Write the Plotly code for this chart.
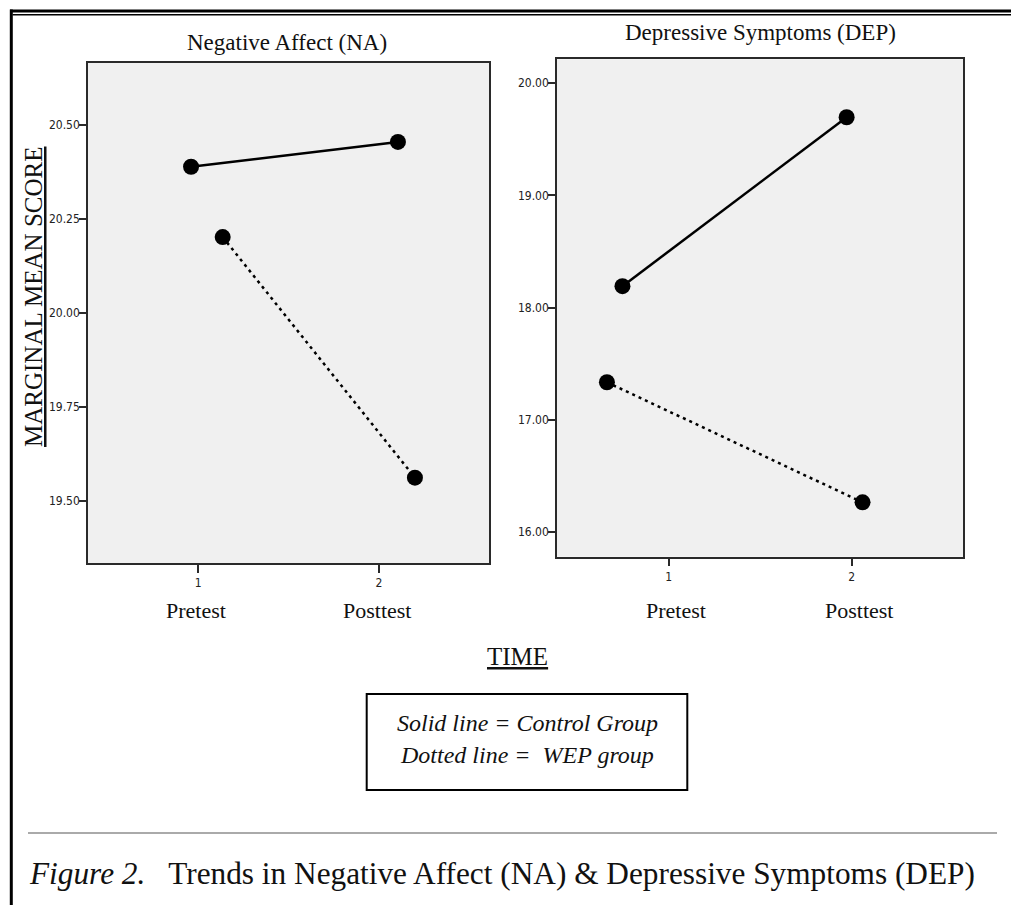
import plotly.graph_objects as go

W, H = 1011, 905

# ---------------- data ----------------
time_ticks = [1, 2]
time_tick_labels = ["1", "2"]
time_names = ["Pretest", "Posttest"]

na_control_x = [0.96, 2.105]
na_control_y = [20.389, 20.455]
na_wep_x = [1.135, 2.199]
na_wep_y = [20.202, 19.562]

dep_control_x = [0.747, 1.973]
dep_control_y = [18.19, 19.697]
dep_wep_x = [0.662, 2.06]
dep_wep_y = [17.333, 16.262]

na_yticks = [19.50, 19.75, 20.00, 20.25, 20.50]
dep_yticks = [16.0, 17.0, 18.0, 19.0, 20.0]

panel_titles = ["Negative Affect (NA)", "Depressive Symptoms (DEP)"]
y_title = "MARGINAL MEAN SCORE"
x_title = "TIME"
legend_lines = ["Solid line = Control Group", "Dotted line =\u00a0 WEP group"]
caption_italic = "Figure 2."
caption_text = "Trends in Negative Affect (NA) & Depressive Symptoms (DEP)"

# ---------------- helpers ----------------
def fx(px):
    return px / W

def fy(py):
    return 1 - py / H

SERIF = "Liberation Serif, Times New Roman, serif"
SANS = "DejaVu Sans Condensed, Liberation Sans Narrow, Arial Narrow, Liberation Sans, sans-serif"

fig = go.Figure()

solid = dict(color="black", width=2.5)
dotted = dict(color="black", width=2.5, dash="3px,4px")
mk = dict(color="black", size=16)

fig.add_trace(go.Scatter(x=na_control_x, y=na_control_y, mode="lines+markers",
                         line=solid, marker=mk, xaxis="x", yaxis="y", showlegend=False))
fig.add_trace(go.Scatter(x=na_wep_x, y=na_wep_y, mode="lines+markers",
                         line=dotted, marker=mk, xaxis="x", yaxis="y", showlegend=False))
fig.add_trace(go.Scatter(x=dep_control_x, y=dep_control_y, mode="lines+markers",
                         line=solid, marker=mk, xaxis="x2", yaxis="y2", showlegend=False))
fig.add_trace(go.Scatter(x=dep_wep_x, y=dep_wep_y, mode="lines+markers",
                         line=dotted, marker=mk, xaxis="x2", yaxis="y2", showlegend=False))

axis_common = dict(showgrid=False, zeroline=False, showline=True, mirror=True,
                   linecolor="#2a2a2a", linewidth=1.5, ticks="outside",
                   tickcolor="#2a2a2a", tickwidth=1.5,
                   tickfont=dict(family=SANS, size=12, color="#222"))

xa = dict(axis_common, tickvals=time_ticks, ticktext=time_tick_labels, ticklen=8)
ya = dict(axis_common, tickformat=".2f", ticklen=7, ticklabelstandoff=-3)

fig.update_layout(
    width=W, height=H, autosize=False,
    margin=dict(l=0, r=0, t=0, b=0, pad=0),
    paper_bgcolor="white", plot_bgcolor="#f0f0f0",
    xaxis=dict(xa, domain=[fx(88), fx(489)], range=[0.3896, 2.609], anchor="y"),
    yaxis=dict(ya, domain=[fy(563), fy(62.6)], range=[19.335, 20.666],
               tickvals=na_yticks, anchor="x"),
    xaxis2=dict(xa, domain=[fx(557), fx(963.3)], range=[0.389, 2.611], anchor="y2"),
    yaxis2=dict(ya, domain=[fy(556.7), fy(59.3)], range=[15.777, 20.214],
                tickvals=dep_yticks, anchor="x2"),
    hovermode=False,
)

ann = []
# panel titles
ann.append(dict(text=panel_titles[0], x=fx(287), y=fy(43), xref="paper", yref="paper",
                showarrow=False, xanchor="center", yanchor="middle",
                font=dict(family=SERIF, size=23, color="#111")))
ann.append(dict(text=panel_titles[1], x=fx(760.5), y=fy(33), xref="paper", yref="paper",
                showarrow=False, xanchor="center", yanchor="middle",
                font=dict(family=SERIF, size=23, color="#111")))
# Pretest / Posttest
for xr, shift in (("x", -2), ("x2", 7)):
    for t, name in zip(time_ticks, time_names):
        ann.append(dict(text=name, x=t, y=fy(610), xref=xr, yref="paper", xshift=shift,
                        showarrow=False, xanchor="center", yanchor="middle",
                        font=dict(family=SERIF, size=22, color="#111")))
# y title
ann.append(dict(text="<u>" + y_title + "</u>", x=fx(33), y=fy(297), xref="paper", yref="paper",
                textangle=-90, showarrow=False, xanchor="center", yanchor="middle",
                font=dict(family=SERIF, size=25, color="#111")))
# x title
ann.append(dict(text="<u>" + x_title + "</u>", x=fx(517.5), y=fy(656), xref="paper", yref="paper",
                showarrow=False, xanchor="center", yanchor="middle",
                font=dict(family=SERIF, size=25, color="#111")))
# legend box text
ann.append(dict(text="<i>" + legend_lines[0] + "</i>", x=fx(527), y=fy(723), xref="paper", yref="paper",
                showarrow=False, xanchor="center", yanchor="middle",
                font=dict(family=SERIF, size=24, color="#111")))
ann.append(dict(text="<i>" + legend_lines[1] + "</i>", x=fx(527), y=fy(755), xref="paper", yref="paper",
                showarrow=False, xanchor="center", yanchor="middle",
                font=dict(family=SERIF, size=24, color="#111")))
# caption
ann.append(dict(text="<i>" + caption_italic + "</i>\u00a0\u00a0 " + caption_text,
                x=fx(27), y=fy(873), xref="paper", yref="paper",
                showarrow=False, xanchor="left", yanchor="middle",
                font=dict(family=SERIF, size=31.3, color="#111")))
fig.update_layout(annotations=ann)

shapes = []
# outer frame: thick + thin top lines, left vertical
shapes.append(dict(type="line", xref="paper", yref="paper", x0=fx(10), x1=fx(1011),
                   y0=fy(11), y1=fy(11), line=dict(color="black", width=3)))
shapes.append(dict(type="line", xref="paper", yref="paper", x0=fx(12.5), x1=fx(1011),
                   y0=fy(14.8), y1=fy(14.8), line=dict(color="black", width=1.5)))
shapes.append(dict(type="line", xref="paper", yref="paper", x0=fx(11.3), x1=fx(11.3),
                   y0=fy(9.5), y1=fy(905), line=dict(color="black", width=3)))
# grey separator
shapes.append(dict(type="line", xref="paper", yref="paper", x0=fx(28), x1=fx(997),
                   y0=fy(833), y1=fy(833), line=dict(color="#aaaaaa", width=2)))
# legend box
shapes.append(dict(type="rect", xref="paper", yref="paper", x0=fx(366.7), x1=fx(687.3),
                   y0=fy(790), y1=fy(694), line=dict(color="black", width=2)))
fig.update_layout(shapes=shapes)

fig.write_html("out.html", config={"displayModeBar": False},
               post_script="document.body.style.margin='0';document.body.style.overflow='hidden';")
